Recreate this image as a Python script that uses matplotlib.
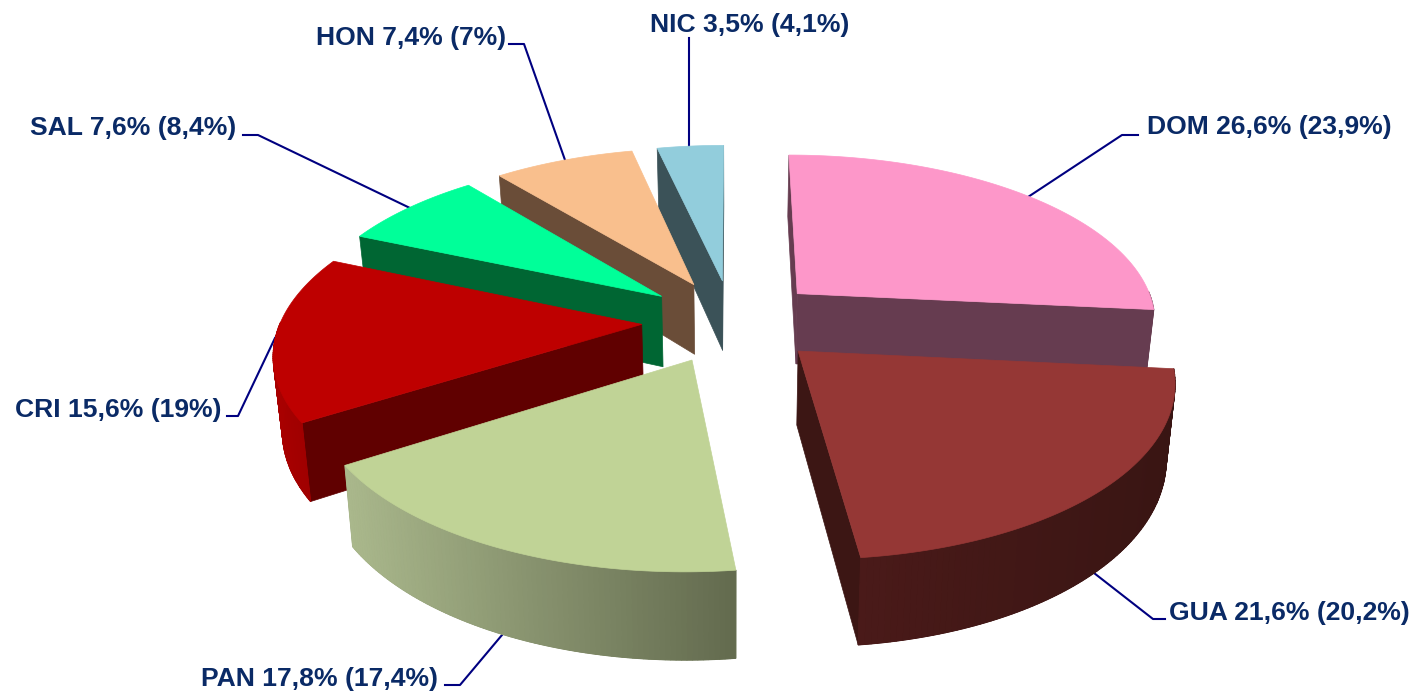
import numpy as np
import matplotlib
matplotlib.use('Agg')
import matplotlib.pyplot as plt
from matplotlib.colors import to_rgb
from matplotlib.path import Path

names = ['DOM', 'GUA', 'PAN', 'CRI', 'SAL', 'HON', 'NIC']
share = [26.6, 21.6, 17.8, 15.6, 7.6, 7.4, 3.5]
prev_text = ['23,9%', '20,2%', '17,4%', '19%', '8,4%', '7%', '4,1%']
share_text = ['26,6%', '21,6%', '17,8%', '15,6%', '7,6%', '7,4%', '3,5%']

top_col = ['#FD97C9', '#953735', '#C0D396', '#BE0000', '#00FF99', '#F9BF8D', '#92CDDC']
cut_col = ['#663C50', '#3C1614', '#A5B383', '#600000', '#006633', '#6A4D38', '#3B5258']
# outer wall colour, left end and right end of the gradient
wall_left = ['#663C50', '#4A1A19', '#AAB88C', '#A80000', '#006633', '#6A4D38', '#3B5258']
wall_right = ['#663C50', '#391513', '#626A4E', '#A00000', '#006633', '#6A4D38', '#3B5258']

# back to front
draw_order = [6, 5, 4, 3, 0, 1, 2]

# where labels sit and the leader polylines, in pixels
label_xy = [(1147, 127), (1169, 613), (201, 679), (15, 410), (30, 128), (316, 38), (650, 25)]
leaders = [
    [(1138, 135), (1122, 135), (1028, 197)],
    [(1165, 619), (1153, 619), (1094, 573)],
    [(445, 685), (460, 685), (502, 635)],
    [(227, 416), (238, 416), (275, 338)],
    [(243, 135), (258, 135), (410, 208)],
    [(509, 44), (524, 44), (565, 160)],
    [(689, 38), (689, 147)],
]

# pie projection
cx, cy = 732, 321
rx, ry = 361, 167
persp = 0.15
explode = 0.25
depth = 72
shrink = 0.98
navy = '#000080'
text_col = '#0A2A66'


def project(gx, gy, low=False):
    # gx to the right, gy towards the viewer
    w = 1 - persp * gy
    x = cx + rx * gx / w
    y = cy + ry * gy / w
    if low:
        x = cx + (x - cx) * shrink
        y = y + depth / w
    return x, y


fig = plt.figure(figsize=(14.15, 6.94), dpi=100)
ax = fig.add_axes([0, 0, 1, 1])
ax.set_xlim(0, 1415)
ax.set_ylim(694, 0)
ax.axis('off')

for pts in leaders:
    ax.plot([p[0] for p in pts], [p[1] for p in pts], color=navy, lw=1.5, zorder=1)

vals = np.array(share)
edges = np.concatenate([[0], np.cumsum(vals) / vals.sum() * 2 * np.pi])

z = 2
for i in draw_order:
    a0, a1 = edges[i], edges[i + 1]
    mid = (a0 + a1) / 2
    ox, oy = explode * np.sin(mid), -explode * np.cos(mid)
    t = np.linspace(a0, a1, 90)
    gx = ox + np.sin(t)
    gy = oy - np.cos(t)

    tx, ty = project(gx, gy)
    bx, by = project(gx, gy, low=True)
    px, py = project(ox, oy)
    qx, qy = project(ox, oy, low=True)
    top_path = Path(np.c_[np.r_[px, tx, px], np.r_[py, ty, py]])

    # cut faces, only when the ground below the edge is outside the top
    for k in (0, -1):
        mx, my = (px + tx[k]) / 2, (py + ty[k]) / 2
        if not top_path.contains_point((mx, my + 3)):
            ax.fill([px, tx[k], bx[k], qx], [py, ty[k], by[k], qy],
                    color=cut_col[i], lw=0.5, zorder=z)
    z += 1

    # outer wall, front part only, strips over a solid base for the gradient
    front = np.cos(t) < 0.02
    if front.any():
        fx, fy, gbx, gby = tx[front], ty[front], bx[front], by[front]
        c0 = np.array(to_rgb(wall_left[i]))
        c1 = np.array(to_rgb(wall_right[i]))
        ax.fill(np.r_[fx, gbx[::-1]], np.r_[fy, gby[::-1]],
                color=(c0 + c1) / 2, lw=0.5, zorder=z)
        lo, hi = fx.min(), fx.max()
        for k in range(len(fx) - 1):
            f = ((fx[k] + fx[k + 1]) / 2 - lo) / (hi - lo)
            ax.fill([fx[k], fx[k + 1], gbx[k + 1], gbx[k]], [fy[k], fy[k + 1], gby[k + 1], gby[k]],
                    color=c0 + (c1 - c0) * f, lw=0.8, zorder=z)
    z += 1

    # top
    ax.fill(np.r_[px, tx], np.r_[py, ty], color=top_col[i], lw=0.5, zorder=z)
    z += 1

for i, name in enumerate(names):
    ax.text(label_xy[i][0], label_xy[i][1], '{0} {1} ({2})'.format(name, share_text[i], prev_text[i]),
            family='Liberation Sans', weight='bold', fontsize=19.05, color=text_col,
            ha='left', va='center', zorder=100)

fig.savefig('out.png', dpi=100)
